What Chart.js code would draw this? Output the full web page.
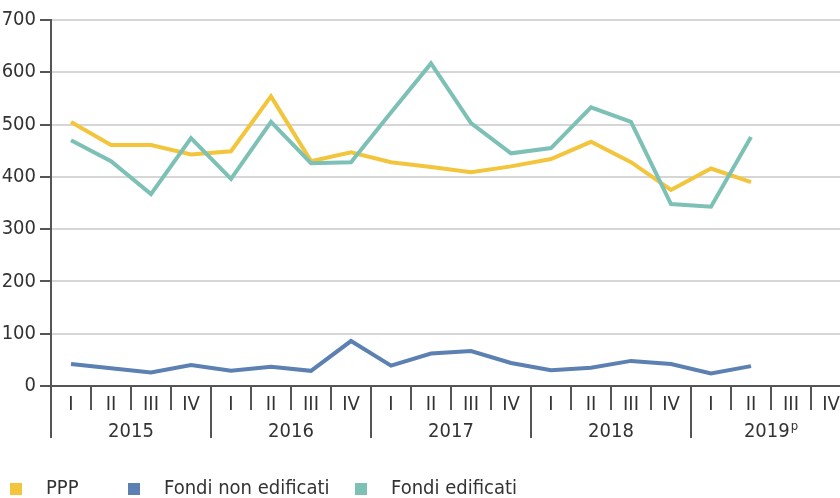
<!DOCTYPE html>
<html>
<head>
<meta charset="utf-8">
<script src="https://cdn.jsdelivr.net/npm/chart.js@4.4.1/dist/chart.umd.min.js"></script>
<style>
html,body{margin:0;padding:0;background:#fff;overflow:hidden;}
#wrap{width:840px;height:498px;overflow:hidden;}
</style>
</head>
<body>
<div id="wrap"><canvas id="chart" width="851" height="498"></canvas></div>
<script>
/* ===== data ===== */

const quarters = [
'I','II','III','IV',
'I','II','III','IV',
'I','II','III','IV',
'I','II','III','IV',
'I','II','III','IV'
];

const years = ['2015','2016','2017','2018','2019'];
const yearMarks = ['','','','','p'];

const ppp = [
505,461,461,443,
449,554,430,447,
428,419,409,420,
434,467,428,375,
416,390,null,null
];

const fondiNonEdificati = [
42,34,26,40,
29,37,29,86,
39,62,67,44,
30,35,48,42,
24,38,null,null
];

const fondiEdificati = [
470,430,367,474,
396,505,426,428,
523,617,503,445,
455,533,505,348,
343,476,null,null
];

const yTicks = [0,100,200,300,400,500,600,700];

const FONT = "'Liberation Sans Narrow','DejaVu Sans Condensed',sans-serif";
const TXT = '#333';

/* ===== x axis decorations + legend ===== */

const axisExtras = {
id:'axisExtras',
afterDraw(chart){
const ctx = chart.ctx;
const x = chart.scales.x;
const bottom = chart.chartArea.bottom;
const n = quarters.length;
const step = x.getPixelForValue(1)-x.getPixelForValue(0);
ctx.save();
ctx.strokeStyle = '#555';
ctx.lineWidth = 2;
for(let i=1;i<=n;i++){
const px = x.getPixelForValue(i-1) + step/2;
const len = (i%4===0) ? 52 : 24;
ctx.beginPath();
ctx.moveTo(px,bottom);
ctx.lineTo(px,bottom+len);
ctx.stroke();
}
// left axis continues down as first year separator
ctx.beginPath();
ctx.moveTo(chart.chartArea.left,bottom);
ctx.lineTo(chart.chartArea.left,bottom+52);
ctx.stroke();
// year labels
ctx.fillStyle = TXT;
ctx.textBaseline = 'middle';
years.forEach((yr,k)=>{
const cx = (x.getPixelForValue(k*4) + x.getPixelForValue(k*4+3))/2;
ctx.font = '20px '+FONT;
const w1 = ctx.measureText(yr).width;
ctx.font = '13px '+FONT;
const w2 = yearMarks[k] ? ctx.measureText(yearMarks[k]).width + 1 : 0;
const start = cx - (w1+w2)/2;
ctx.textAlign = 'left';
ctx.font = '20px '+FONT;
ctx.fillText(yr,start,bottom+46);
if(yearMarks[k]){
ctx.font = '13px '+FONT;
ctx.fillText(yearMarks[k],start+w1+1,bottom+41);
}
});
// legend
const items = [
{label:'PPP',color:'#F2C53D',bx:10,tx:46},
{label:'Fondi non edificati',color:'#5B80B1',bx:128,tx:164},
{label:'Fondi edificati',color:'#7CC0B6',bx:355,tx:391}
];
ctx.font = '20px '+FONT;
ctx.textAlign = 'left';
items.forEach(it=>{
ctx.fillStyle = it.color;
ctx.fillRect(it.bx,483,12,12);
ctx.fillStyle = TXT;
ctx.fillText(it.label,it.tx,489);
});
ctx.restore();
}
};

/* ===== chart ===== */

new Chart(document.getElementById('chart'),{
type:'line',
data:{
labels:quarters,
datasets:[
{label:'Fondi non edificati',data:fondiNonEdificati,borderColor:'#5B80B1',borderWidth:4,pointRadius:0,tension:0},
{label:'Fondi edificati',data:fondiEdificati,borderColor:'#7CC0B6',borderWidth:4,pointRadius:0,tension:0},
{label:'PPP',data:ppp,borderColor:'#F2C53D',borderWidth:4,pointRadius:0,tension:0}
]
},
options:{
responsive:false,
animation:false,
layout:{padding:{top:20,left:0,right:0,bottom:0}},
plugins:{legend:{display:false},tooltip:{enabled:false}},
scales:{
x:{
offset:true,
grid:{display:false,drawTicks:false},
border:{color:'#555',width:2},
ticks:{color:TXT,font:{family:FONT,size:20},padding:7,maxRotation:0,autoSkip:false},
afterFit(scale){ scale.height = 112; }
},
y:{
min:0,
max:700,
afterBuildTicks(scale){ scale.ticks = yTicks.map(v=>({value:v})); },
grid:{color:'#d6d6d6',lineWidth:2,tickColor:'#555',tickLength:11},
border:{color:'#555',width:2},
ticks:{color:TXT,font:{family:FONT,size:20},padding:4},
afterFit(scale){ scale.width = 51; }
}
}
},
plugins:[axisExtras]
});
</script>
</body>
</html>
